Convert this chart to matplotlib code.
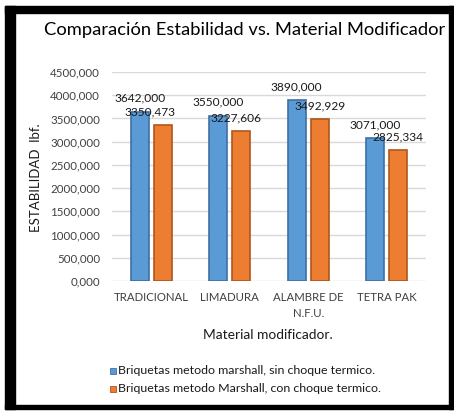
import matplotlib
matplotlib.use("Agg")
import matplotlib.pyplot as plt
from matplotlib.patches import Rectangle
from matplotlib.ticker import FuncFormatter, MultipleLocator
import numpy as np

plt.rcParams['font.family'] = ['Lato', 'DejaVu Sans']

categories = ["TRADICIONAL", "LIMADURA", "ALAMBRE DE\nN.F.U.", "TETRA PAK"]
sin_choque = [3642.000, 3550.000, 3890.000, 3071.000]
con_choque = [3350.473, 3227.606, 3492.929, 2825.334]
series_names = ["Briquetas metodo marshall, sin choque termico.",
                "Briquetas metodo Marshall, con choque termico."]

W, H = 454, 412
fig = plt.figure(figsize=(W / 100, H / 100), dpi=100)
fig.patch.set_facecolor("white")

# black frame around the chart
def frame(x0, y0, x1, y1):
    fig.patches.append(Rectangle((x0 / W, 1 - y1 / H), (x1 - x0) / W, (y1 - y0) / H,
                                 transform=fig.transFigure, color="black", zorder=0))
frame(5, 6, 15, 409)
frame(5, 6, 453, 13)
frame(449, 6, 453, 409)
frame(5, 405, 453, 409)

ax = fig.add_axes([112 / W, 1 - 281 / H, 314 / W, 209 / H])
x = np.arange(len(categories))
bw = 0.23
off = 0.147

blue, blue_edge = "#5B9BD5", "#3F6FA3"
orange, orange_edge = "#ED7D31", "#B0561C"

ax.bar(x - off, sin_choque, bw, color=blue, edgecolor=blue_edge, linewidth=1.2, zorder=3)
ax.bar(x + off, con_choque, bw, color=orange, edgecolor=orange_edge, linewidth=1.2, zorder=3)

def fmt(v):
    return f"{v:.3f}".replace(".", ",")

label_shift_1 = [0, 0, 0, 0]
label_shift_2 = [-9, -4, 0, 0]
for i in range(len(categories)):
    ax.annotate(fmt(sin_choque[i]), (x[i] - off, sin_choque[i]), xytext=(label_shift_1[i], 10),
                textcoords="offset points", ha="center", va="center", fontsize=8.6,
                color="#1a1a1a", zorder=5)
    ax.annotate(fmt(con_choque[i]), (x[i] + off, con_choque[i]), xytext=(label_shift_2[i], 9.5),
                textcoords="offset points", ha="center", va="center", fontsize=8.6,
                color="#1a1a1a", zorder=5)

ax.set_xlim(-0.5, len(categories) - 0.5)
ax.set_ylim(0, 4500)
ax.yaxis.set_major_locator(MultipleLocator(500))
ax.yaxis.set_major_formatter(FuncFormatter(lambda v, p: fmt(v)))
ax.grid(axis="y", color="#D9D9D9", linewidth=1, zorder=0)
ax.set_axisbelow(True)
for s in ax.spines.values():
    s.set_visible(False)
ax.tick_params(axis="both", length=0, colors="#404040")
ax.tick_params(axis="y", pad=8.5, labelsize=8.3)
ax.tick_params(axis="x", pad=8, labelsize=8.2)
ax.set_xticks(x)
ax.set_xticklabels(categories, linespacing=1.55)

fig.text(36 / W, 1 - 178 / H, "ESTABILIDAD  lbf.", rotation=90, ha="center", va="center",
         fontsize=9.5, color="#1a1a1a")

fig.text(268 / W, 1 - 335 / H, "Material modificador.", ha="center", va="center",
         fontsize=9.9, color="#1a1a1a")

fig.text(245 / W, 1 - 30 / H, "Comparación Estabilidad vs. Material Modificador",
         ha="center", va="center", fontsize=13.2, color="#000000")

# legend entries
for k, (name, c, ec) in enumerate([(series_names[0], blue, blue_edge),
                                    (series_names[1], orange, orange_edge)]):
    yc = [371, 389][k]
    fig.patches.append(Rectangle((110 / W, 1 - (yc + 3) / H), 6 / W, 6 / H,
                                 transform=fig.transFigure, facecolor=c, edgecolor=ec,
                                 linewidth=0.6))
    fig.text(118 / W, 1 - yc / H, name, ha="left", va="center", fontsize=8.9, color="#1a1a1a")

fig.savefig("out.png", dpi=100)
